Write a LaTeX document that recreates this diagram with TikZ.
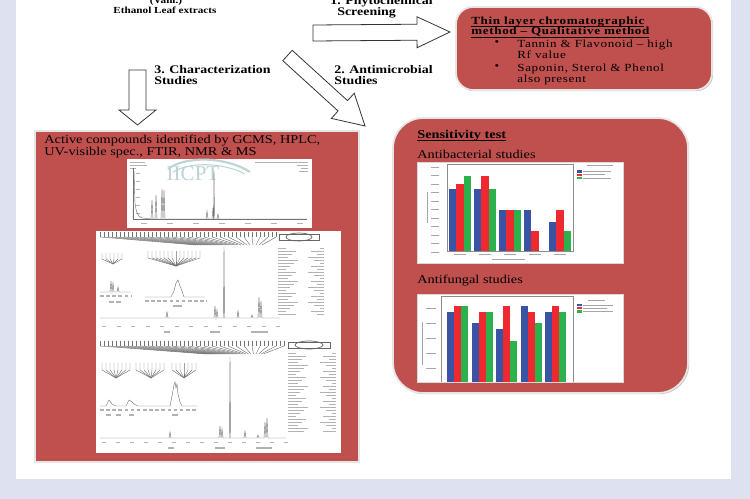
\documentclass[tikz,border=0pt]{standalone}
\usepackage{fontspec}
\setmainfont{Liberation Serif}
\newfontfamily\wideSerif[FakeStretch=1.2]{Liberation Serif}
\newfontfamily\tlcSerif[FakeStretch=1.2,LetterSpace=6]{Liberation Serif}
\usetikzlibrary{calc,shadows}
\definecolor{bgLav}{RGB}{222,225,239}
\definecolor{boxRed}{RGB}{192,80,77}
\definecolor{barBlue}{RGB}{58,83,164}
\definecolor{barRed}{RGB}{238,42,48}
\definecolor{barGreen}{RGB}{44,178,76}
\definecolor{markTeal}{RGB}{188,212,214}
\newcommand\ulTxt[1]{\underline{\smash{#1}}}
\begin{document}
\begin{tikzpicture}[x=0.02cm,y=-0.02cm,
    arrLabel/.style={font=\wideSerif\bfseries\fontsize{6.6}{6.6}\selectfont,align=left,inner sep=0pt,anchor=north west},
    boxText/.style={font=\wideSerif\fontsize{6.8}{6.8}\selectfont,align=left,inner sep=0pt,anchor=north west},
    tlcText/.style={font=\tlcSerif\fontsize{6.2}{6.2}\selectfont,align=left,inner sep=0pt,anchor=north west},
    redBox/.style={fill=boxRed,draw=white!90!black,line width=1pt,inner sep=0pt,
      drop shadow={shadow xshift=0.7pt,shadow yshift=-0.7pt,fill=black!50,opacity=.45}},
    chartBg/.style={fill=white,draw=black!15,line width=0.2pt},
    blockArr/.style n args={3}{draw=black!80,fill=white,line width=0.45pt,line join=miter,
      to path={($(\tikztostart)!#1!90:(\tikztotarget)$)
        -- ($(\tikztotarget)!#3!(\tikztostart)!#1!90:(\tikztotarget)$)
        -- ($(\tikztotarget)!#3!(\tikztostart)!#2!90:(\tikztotarget)$)
        -- (\tikztotarget)
        -- ($(\tikztotarget)!#3!(\tikztostart)!#2!-90:(\tikztotarget)$)
        -- ($(\tikztotarget)!#3!(\tikztostart)!#1!-90:(\tikztotarget)$)
        -- ($(\tikztostart)!#1!-90:(\tikztotarget)$) -- cycle}},
    specLine/.style={black!55,line width=0.25pt},
    specTxt/.style={black!30,line width=0.6pt},
    chartTxt/.style={black!35,line width=0.5pt},
]
\useasboundingbox (0,0) rectangle (750,499);
\fill[bgLav] (0,0) rectangle (750,499);
\fill[white] (16,0) rectangle (731,479);
% Top labels
\node[arrLabel,anchor=center,font=\wideSerif\bfseries\fontsize{5.3}{5.3}\selectfont] (vahl) at (166,1) {(Vahl.)};
\node[arrLabel,anchor=center,font=\wideSerif\bfseries\fontsize{5.3}{5.3}\selectfont] (extract) at (165,10) {Ethanol Leaf extracts};
\node[arrLabel] (phyto) at (330,-4) {1. Phytochemical\\\phantom{1}Screening};
\node[arrLabel] (antimic) at (334,65) {2. Antimicrobial\\Studies};
\node[arrLabel] (charac) at (154,65) {3. Characterization\\Studies};
% Boxes
\node[redBox,rounded corners=0.34cm,minimum width=5.12cm,minimum height=1.66cm] (tlcBox) at (584,48.5) {};
\node[redBox,rounded corners=0.6cm,minimum width=5.9cm,minimum height=5.5cm] (sensBox) at (540.5,255.5) {};
\node[redBox,minimum width=6.48cm,minimum height=6.62cm] (activeBox) at (197,296.5) {};
% Block arrows
\coordinate (phyS) at (313,33);
\coordinate (phyE) at (450,32);
\coordinate (micS) at (287.5,55.5);
\coordinate (micE) at (365,126);
\coordinate (chaS) at (137.5,70);
\coordinate (chaE) at (137.5,125);
\draw[blockArr={0.16cm}{0.31cm}{0.66cm}] (phyS) to (phyE);
\draw[blockArr={0.14cm}{0.34cm}{0.6cm}] (micS) to (micE);
\draw[blockArr={0.17cm}{0.37cm}{0.3cm}] (chaS) to (chaE);
% TLC text
\node[tlcText,font=\tlcSerif\bfseries\fontsize{6.2}{6}\selectfont] (tlcHead) at (471,24)
  {\ulTxt{Thin layer chromatographic}\\\ulTxt{method \textendash{} Qualitative method}};
\node[tlcText,anchor=center] (tlcDot1) at (497,43.5) {\textbullet};
\node[tlcText] (tlcItem1) at (517,40) {Tannin \& Flavonoid \textendash{} high\\Rf value};
\node[tlcText,anchor=center] (tlcDot2) at (497,67.5) {\textbullet};
\node[tlcText] (tlcItem2) at (517,64) {Saponin, Sterol \& Phenol\\also present};
% Sensitivity text
\node[boxText,font=\wideSerif\bfseries\fontsize{6.8}{6.8}\selectfont] (sensHead) at (417,138) {\ulTxt{Sensitivity test}};
\node[boxText] (abTitle) at (417,150) {Antibacterial studies};
\node[boxText] (afTitle) at (417,275) {Antifungal studies};
\node[boxText] (activeText) at (44,134.5) {Active compounds identified by GCMS, HPLC,\\UV-visible spec., FTIR, NMR \& MS};
% Antibacterial chart
\draw[chartBg] (417,162) rectangle (623,263);
\draw[black!45,line width=0.3pt] (447,164) rectangle (573,251);
\foreach \t in {0,...,10} \draw[chartTxt] (431,{252-8.5*\t}) -- ++(8,0);
\draw[chartTxt] (427,223) -- (427,192);
\draw[chartTxt] (492,259) -- (525,259);
\foreach \g/\hb/\hr/\hg in {0/189/184/176,1/189/176/189,2/210/210/210,3/210/231/251,4/222/210/231}{
  \fill[barBlue] ({449+25*\g},251) rectangle ({456.3+25*\g},\hb);
  \fill[barRed] ({456.3+25*\g},251) rectangle ({463.6+25*\g},\hr);
  \fill[barGreen] ({463.6+25*\g},251) rectangle ({470.9+25*\g},\hg);
  \draw[chartTxt] ({454+25*\g},254.5) -- ++(12,0);
}
\draw[chartTxt] (587,165.5) -- (613,165.5);
\foreach \c [count=\k] in {barBlue,barRed,barGreen}{
  \fill[\c] (577,{167+3.3*\k}) rectangle ++(4.5,2.4);
  \draw[chartTxt,line width=0.4pt] (583,{168.2+3.3*\k}) -- ++({22+6*mod(\k,2)},0);
}
% Antifungal chart
\draw[chartBg] (417,294) rectangle (623,382);
\draw[black!45,line width=0.3pt] (441,382) |- (573,296) -- (573,382);
\foreach \t in {0,...,4} \draw[chartTxt] (426,{308+15.2*\t}) -- ++(10,0);
\draw[chartTxt] (422,365) -- (422,322);
\foreach \g/\hb/\hr/\hg in {0/312/306/306,1/323/312/312,2/329/306/341,3/306/312/323,4/312/306/312}{
  \fill[barBlue] ({447+24.6*\g},382) rectangle ({454+24.6*\g},\hb);
  \fill[barRed] ({454+24.6*\g},382) rectangle ({461+24.6*\g},\hr);
  \fill[barGreen] ({461+24.6*\g},382) rectangle ({468+24.6*\g},\hg);
}
\draw[chartTxt] (588,300) -- (605,300);
\foreach \c [count=\k] in {barBlue,barRed,barGreen}{
  \fill[\c] (577,{301+3.1*\k}) rectangle ++(4.5,2.3);
  \draw[chartTxt,line width=0.4pt] (583,{302.2+3.1*\k}) -- ++({24+6*mod(\k,2)},0);
}
% GCMS panel
\begin{scope}[shift={(127,159)}]
  \fill[white] (0,0) rectangle (185,69);
  \begin{scope}
    \clip (0,0) rectangle (185,69);
    \draw[markTeal,line width=1.2pt] (41,10) .. controls (58,-3) and (98,-3) .. (123,13);
    \draw[markTeal,line width=0.6pt] (46,13) .. controls (62,3) and (95,3) .. (118,15);
  \end{scope}
  \node[text=markTeal,font=\fontsize{12}{12}\selectfont,inner sep=0pt] (iicpt) at (66,15) {IICPT};
  \draw[specTxt,line width=0.4pt] (3,3) -- (18,3) (3,6) -- (20,6) (3,9) -- (9,9);
  \draw[specTxt,line width=0.4pt] (128,3) -- (181,3) (170,6) -- (181,6) (174,9) -- (181,9) (172,12) -- (181,12);
  \draw[specLine] (6,9) -- (6,60) -- (180,60);
  \foreach \i in {0,...,6} \draw[specTxt,line width=0.4pt] ({14+26*\i},64) -- ++(6,0);
  \foreach \i in {0,...,5} \draw[specTxt,line width=0.4pt] (9,{14+8*\i}) -- ++(4,0);
  \draw[specLine] (6,60) -- (7,12) -- (8,44) -- (9,50) -- (10,54) -- (12,57) -- (15,59) -- (24,60)
    -- (25,41) -- (26,60) -- (28,60) -- (29,36) -- (30,60) -- (34,60) -- (35,30) -- (36,60) -- (37,31) -- (38,60)
    -- (79,60) -- (80,52) -- (81,60) -- (85,60) -- (86,49) -- (86.6,60) -- (87,11) -- (87.5,60) -- (90,60) -- (91,55) -- (92,60) -- (180,60);
\end{scope}
% NMR panel
\begin{scope}[shift={(96,231)}]
  \fill[white] (0,0) rectangle (245,222);
  % first spectrum
  \foreach \i in {0,...,44} \draw[specLine] ({4+4*\i},1) -- ++(0,5);
  \foreach \i in {0,...,22} \draw[specLine] ({4+8*\i},6) -- ({100+3*\i},14);
  \draw[black!60,line width=0.4pt] (183,3) rectangle (223,9);
  \draw[black!60,line width=0.4pt] (203,6) ellipse [x radius=13, y radius=4];
  \foreach \j in {0,...,22}{
    \draw[specTxt,line width=0.45pt] (182,{17+3*\j}) -- ++({8+2*mod(\j*5,7)},0);
    \draw[specTxt,line width=0.45pt] ({224-3*mod(\j*3,5)},{17+3*\j}) -- (228,{17+3*\j});
  }
  \foreach \i in {0,...,5} \draw[specLine] ({6+4*\i},22) -- ++(0,6) -- (17,33);
  \draw[specLine] (4,61) -- (14,61) -- (15,50) -- (16,61) -- (17,52) -- (18,61) -- (21,61) -- (22,56) -- (23,61) -- (34,61);
  \draw[specTxt,dash pattern=on 2pt off 1.5pt] (4,65) -- (36,65);
  \draw[specTxt] (13,71) -- (18,71) (20,71) -- (25,71);
  \foreach \i in {0,...,13} \draw[specLine] ({52+4*\i},20) -- ++(0,7) -- (80,35);
  \draw[specLine] (49,66) -- (75,66) -- (78,60) -- (80,52) -- (82,49) -- (84,55) -- (86,60) -- (88,66) -- (109,66);
  \draw[specTxt,dash pattern=on 2pt off 1.5pt] (49,70) -- (111,70);
  \draw[specTxt] (77,75) -- (86,75);
  \draw[specLine] (4,87) -- (70,87) -- (71,81) -- (72,87) -- (118,87) -- (119,75) -- (120,87) -- (121,79) -- (122,87)
    -- (127.5,87) -- (128,16) -- (128.5,87) -- (141,87) -- (142,80) -- (143,87) -- (155,87) -- (156,84) -- (157,87)
    -- (162,87) -- (163,66) -- (164,87) -- (165,70) -- (166,87) -- (184,87);
  \foreach \i in {0,...,12} \draw[specTxt,line width=0.45pt] ({6+14.5*\i},95) -- ++(4,0);
  \draw[specTxt] (68,101) -- (74,101) (114,101) -- (124,101) (155,101) -- (172,101);
  % second spectrum
  \begin{scope}[shift={(0,107)}]
    \foreach \i in {0,...,46} \draw[specLine] ({4+4*\i},3) -- ++(0,5);
    \foreach \i in {0,...,23} \draw[specLine] ({4+8*\i},8) -- ({110+2.5*\i},16);
    \draw[black!60,line width=0.4pt] (192,4) rectangle (234,10);
    \draw[black!60,line width=0.4pt] (213,7) ellipse [x radius=14, y radius=4];
    \foreach \j in {0,...,26}{
      \draw[specTxt,line width=0.45pt] (192,{15+3*\j}) -- ++({8+2*mod(\j*5,7)},0);
      \draw[specTxt,line width=0.45pt] ({236-3*mod(\j*3,5)},{15+3*\j}) -- (240,{15+3*\j});
    }
    \foreach \i in {0,...,7} \draw[specLine] ({6+4*\i},25) -- ++(0,7) -- (20,40);
    \foreach \i in {0,...,7} \draw[specLine] ({40+4*\i},25) -- ++(0,7) -- (55,40);
    \foreach \i in {0,...,6} \draw[specLine] ({76+4*\i},25) -- ++(0,7) -- (88,40);
    \draw[specLine] (4,68) -- (10,68) -- (13,62) -- (16,66) -- (20,68) -- (30,68) -- (33,62) -- (36,64) -- (38,66) -- (42,68)
      -- (74,68) -- (76,58) -- (78,47) -- (79,44) -- (80,50) -- (81,46) -- (82,56) -- (84,64) -- (86,68) -- (101,68);
    \draw[specTxt,dash pattern=on 2pt off 1.5pt] (4,72) -- (102,72);
    \draw[specTxt] (10,77) -- (15,77) (20,77) -- (25,77) (33,77) -- (38,77) (76,77) -- (82,77);
    \draw[specLine] (4,100) -- (73,100) -- (74,94) -- (75,100) -- (123,100) -- (124,88) -- (125,100) -- (126,91) -- (127,100)
      -- (133.5,100) -- (134,19) -- (134.5,100) -- (148,100) -- (149,93) -- (150,100) -- (161,100) -- (162,97) -- (163,100)
      -- (168,100) -- (169,84) -- (170,100) -- (171,80) -- (172,100) -- (190,100);
    \foreach \i in {0,...,13} \draw[specTxt,line width=0.45pt] ({6+14*\i},104) -- ++(4,0);
    \draw[specTxt] (72,110) -- (78,110) (119,110) -- (129,110) (160,110) -- (176,110);
  \end{scope}
\end{scope}
\end{tikzpicture}
\end{document}
